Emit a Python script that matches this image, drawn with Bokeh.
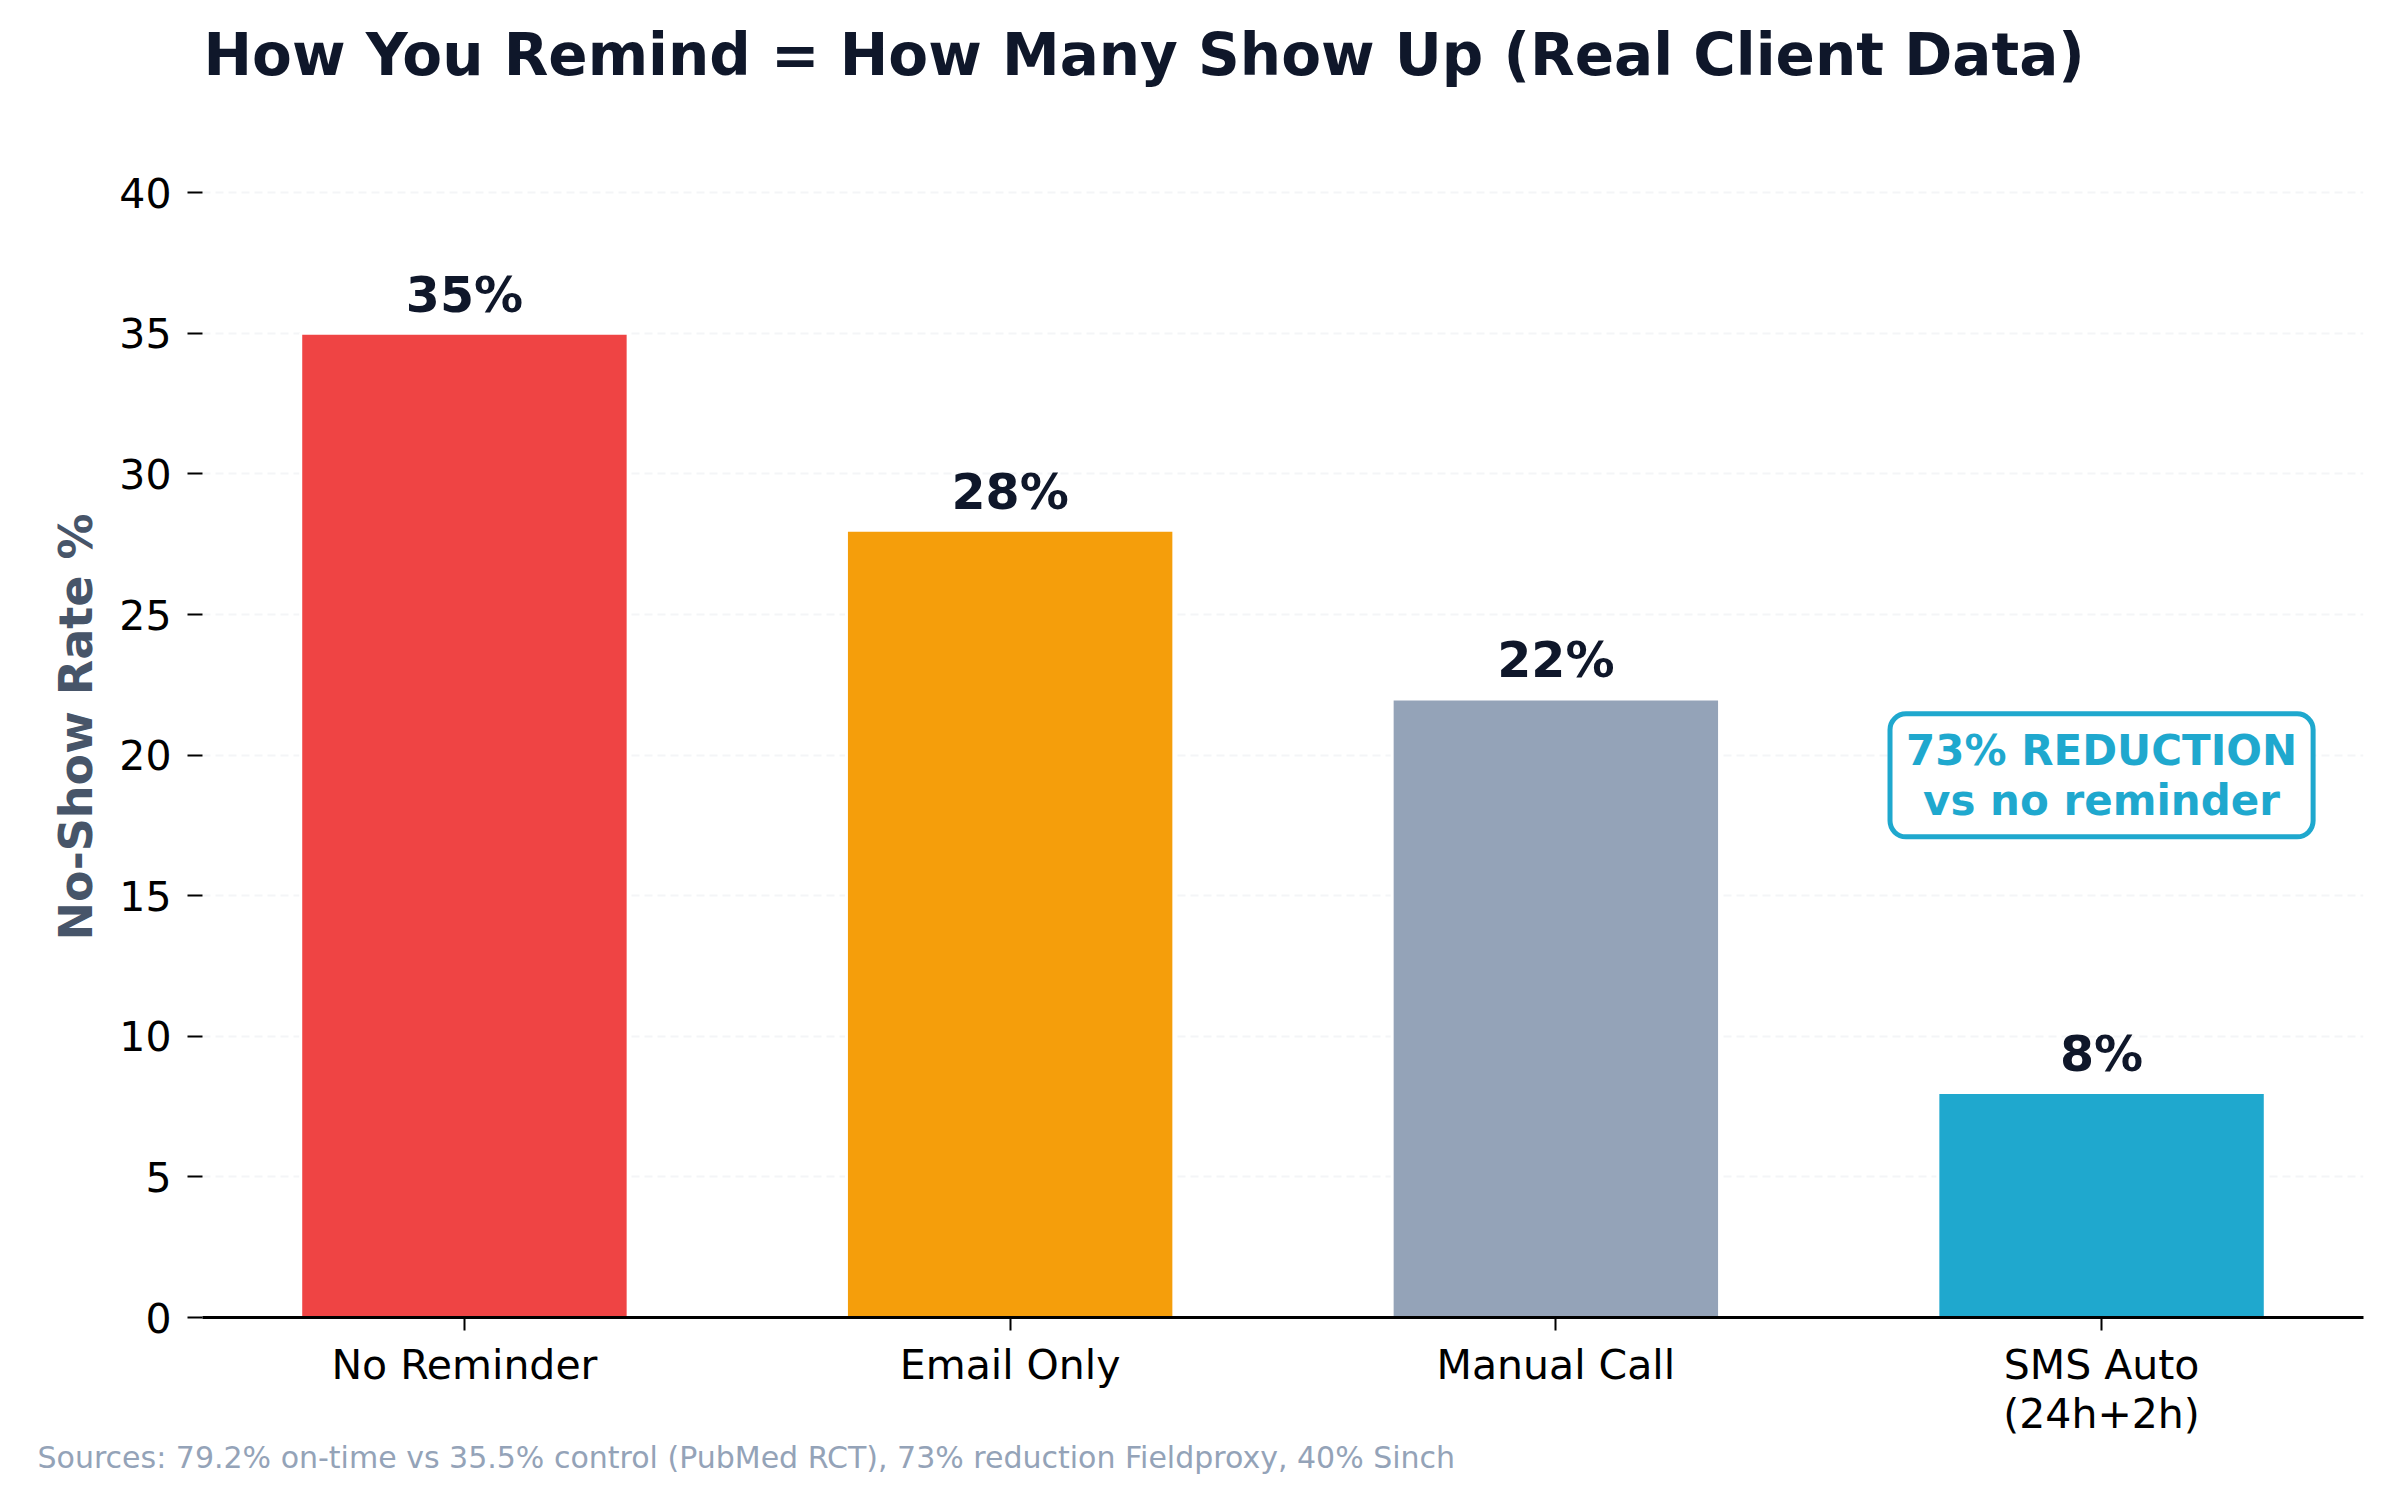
import math
from bokeh.plotting import figure
from bokeh.models import Range1d, FixedTicker, Label, ColumnDataSource, Title
from bokeh.embed import file_html
from bokeh.resources import INLINE
from bokeh.core.properties import value

# ---- data ----
categories = ["No Reminder", "Email Only", "Manual Call", "SMS Auto\n(24h+2h)"]
no_show_rates = [35, 28, 22, 8]
rate_labels = ["35%", "28%", "22%", "8%"]
bar_colors = ["#ef4444", "#f59e0b", "#94a3b8", "#1fa8ce"]
y_ticks = [0, 5, 10, 15, 20, 25, 30, 35, 40]
title_text = "How You Remind = How Many Show Up (Real Client Data)"
y_label_text = "No-Show Rate %"
callout_text = "73% REDUCTION\nvs no reminder"
sources_text = "Sources: 79.2% on-time vs 35.5% control (PubMed RCT), 73% reduction Fieldproxy, 40% Sinch"

FONT = "DejaVu Sans"
DARK = "#0f172a"
CYAN = "#1fa8ce"

xs = list(range(len(categories)))
src = ColumnDataSource(dict(x=xs, rate=no_show_rates, label=rate_labels, color=bar_colors))

W, H = 2375, 1490
p = figure(width=W, height=H, output_backend="svg", toolbar_location=None,
           x_range=Range1d(-0.48, 3.48), y_range=Range1d(0, 42),
           min_border_left=202, min_border_right=12, min_border_top=136, min_border_bottom=173)
p.outline_line_color = None
p.background_fill_color = "white"
p.border_fill_color = "white"
p.title.text = ""

# spacer between frame and title, then the title itself
p.add_layout(Title(text=" ", text_font_size="2px", standoff=44), "above")
p.add_layout(Title(text=title_text, align="left", offset=1, standoff=0,
                   vertical_align="bottom", text_font=FONT, text_font_style="bold",
                   text_font_size="58px", text_color=DARK), "above")

# grid
p.xgrid.grid_line_color = None
p.ygrid.ticker = FixedTicker(ticks=y_ticks)
p.ygrid.grid_line_color = "#f4f5f7"
p.ygrid.grid_line_width = 2
p.ygrid.grid_line_dash = "8 5"

# bars
p.vbar(x="x", top="rate", width=0.6, fill_color="color", line_color="white",
       line_width=3, source=src)

# value labels
p.text(x="x", y="rate", text="label", text_align="center", text_baseline="alphabetic",
       y_offset=-38, text_font=value(FONT), text_font_style="bold",
       text_font_size="49px", text_color=DARK, source=src)

# y axis
p.yaxis.ticker = FixedTicker(ticks=y_ticks)
p.yaxis.axis_line_color = None
p.yaxis.major_tick_out = 15
p.yaxis.major_tick_in = 0
p.yaxis.major_tick_line_width = 2
p.yaxis.major_tick_line_color = "black"
p.yaxis.minor_tick_line_color = None
p.yaxis.major_label_text_font = FONT
p.yaxis.major_label_text_font_size = "41px"
p.yaxis.major_label_text_color = "black"
p.yaxis.major_label_standoff = 16
p.yaxis.axis_label = y_label_text
p.yaxis.axis_label_text_font = FONT
p.yaxis.axis_label_text_font_style = "bold"
p.yaxis.axis_label_text_font_size = "46px"
p.yaxis.axis_label_text_color = "#475569"
p.yaxis.axis_label_standoff = 13

# x axis
p.xaxis.ticker = FixedTicker(ticks=xs)
p.xaxis.major_label_overrides = {i: c for i, c in zip(xs, categories)}
p.xaxis.axis_line_color = "black"
p.xaxis.axis_line_width = 3
p.xaxis.major_tick_out = 13
p.xaxis.major_tick_in = 0
p.xaxis.major_tick_line_width = 2
p.xaxis.major_tick_line_color = "black"
p.xaxis.minor_tick_line_color = None
p.xaxis.major_label_text_font = FONT
p.xaxis.major_label_text_font_size = "41px"
p.xaxis.major_label_text_color = "black"
p.xaxis.major_label_text_line_height = 1.03
p.xaxis.major_label_standoff = 10

# callout
p.add_layout(Label(x=3, y=19.28, text=callout_text, text_align="center",
                   text_baseline="middle", text_font=FONT, text_font_style="bold",
                   text_font_size="42px", text_color=CYAN, text_line_height=1.02,
                   background_fill_color="white", border_line_color=CYAN,
                   border_line_width=5, border_radius=16, padding=(16, 12)))

# sources
p.add_layout(Title(text=sources_text, align="left", offset=-165, standoff=-6,
                   text_font=FONT, text_font_style="normal",
                   text_font_size="30px", text_color="#94a3b8"), "below")

open("out.html", "w").write(file_html(p, INLINE))
